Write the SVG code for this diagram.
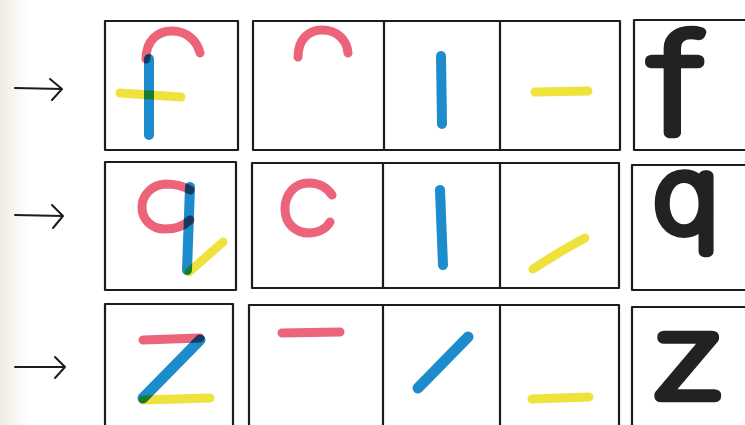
<svg xmlns="http://www.w3.org/2000/svg" width="745" height="425" viewBox="0 0 745 425">
<style>
.box{fill:none;stroke:#1c1c1c;stroke-width:2.2;stroke-linejoin:round;stroke-linecap:round}
.arrow{fill:none;stroke:#1c1c1c;stroke-width:2;stroke-linecap:round;stroke-linejoin:round}
.mk{fill:none;stroke-linecap:round;stroke-linejoin:round;stroke-width:9;mix-blend-mode:multiply}
.pink{stroke:#ec6479}
.blue{stroke:#1c8ccc;stroke-width:10}
.yellow{stroke:#f0e23c}
.big{font-family:Inter,"DejaVu Sans",sans-serif;font-weight:100;fill:#222;stroke:#222;stroke-width:12;stroke-linejoin:round;stroke-linecap:round;vector-effect:non-scaling-stroke}
</style>
<defs>
<linearGradient id="edge" x1="0" y1="0" x2="1" y2="0">
<stop offset="0" stop-color="#efece4"/>
<stop offset="1" stop-color="#ffffff"/>
</linearGradient>
</defs>
<rect width="745" height="425" fill="#fff"/>
<rect width="28" height="425" fill="url(#edge)"/>

<g id="connectors">
<path class="arrow" d="M15 88 L62 89 M50 79 L62 89 L52 100"/>
<path class="arrow" d="M15 215 L63 216 M52 205 L63 216 L53 228"/>
<path class="arrow" d="M15 367 L65 367 M55 357 L65 367 L55 378"/>
</g>

<g id="row-f">
<path class="box" d="M105 21 L238 21 L238 150 L105 150 Z"/>
<path class="mk pink" d="M146 59 C146 40 158 31 172 31 C187 31 197 41 200 53"/>
<path class="mk blue" d="M149 59 L149 135"/>
<path class="mk yellow" d="M120 93 L181 97"/>
<path class="box" d="M253 21 L620 21 L620 150 L253 150 Z M384 21 L384 150 M500 21 L500 150"/>
<path class="mk pink" d="M298 57 C298 40 308 30 322 30 C337 30 347 40 348 53"/>
<path class="mk blue" d="M441 56 L442 124"/>
<path class="mk yellow" d="M535 92 L588 91"/>
<path class="box" d="M746 20 L634 20 L634 150 L746 150"/>
<text class="big" transform="translate(651 133) scale(1.3 1)" font-size="134">f</text>
</g>

<g id="row-q">
<path class="box" d="M105 162 L236 162 L236 290 L105 290 Z"/>
<path class="mk pink" d="M190 190 C182 185 173 184 165 184 C150 185 142 197 142 207 C142 220 152 229 165 229 C176 229 184 226 190 220"/>
<path class="mk blue" d="M190 187 L187 270"/>
<path class="mk yellow" d="M189 272 L223 242"/>
<path class="box" d="M252 163 L619 163 L619 288 L252 288 Z M383 163 L383 288 M500 163 L500 288"/>
<path class="mk pink" d="M332 195 C326 186 318 183 309 183 C294 183 285 195 285 209 C285 224 296 233 309 233 C318 233 326 229 330 222"/>
<path class="mk blue" d="M440 190 L443 265"/>
<path class="mk yellow" d="M533 269 C550 258 568 247 585 238"/>
<path class="box" d="M746 165 L632 165 L632 290 L746 290"/>
<text class="big" transform="translate(654 231) scale(1.1 1)" font-size="100">q</text>
</g>

<g id="row-z">
<path class="box" d="M105 426 L105 304 L233 304 L233 426"/>
<path class="mk pink" d="M143 340 L200 338"/>
<path class="mk blue" d="M200 340 L143 398" style="stroke-width:11"/>
<path class="mk yellow" d="M143 400 L210 398"/>
<path class="box" d="M249 426 L249 305 L619 305 L619 426 M383 305 L383 426 M500 305 L500 426"/>
<path class="mk pink" d="M282 333 L340 332"/>
<path class="mk blue" d="M418 388 L468 337" style="stroke-width:11"/>
<path class="mk yellow" d="M532 399 L589 397"/>
<path class="box" d="M746 307 L632 307 L632 426"/>
<text class="big" transform="translate(650 397) scale(1.3 1)" font-size="111">z</text>
</g>
</svg>
